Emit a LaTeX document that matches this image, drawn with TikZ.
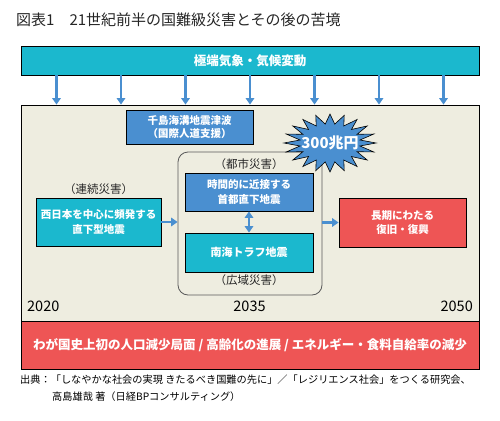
\documentclass[tikz,border=0pt]{standalone}
\usepackage{fontspec}
\setmainfont{Noto Sans CJK JP}
\usetikzlibrary{arrows.meta, positioning, calc}
\definecolor{kcyan}{HTML}{1BB8CE}
\definecolor{kblue}{HTML}{4A8FD0}
\definecolor{kred}{HTML}{EE5555}
\definecolor{kbeige}{HTML}{EEEDE0}

\begin{document}
\begin{tikzpicture}[x=1pt, y=-1pt,
    box/.style={draw, line width=0.8pt, inner sep=0pt, align=center, text=white, font=\bfseries\fontsize{10.5}{14.5}\selectfont},
    note/.style={inner sep=0pt, text=black!85, font=\fontsize{11.5}{13}\selectfont},
    flow/.style={-{Triangle[width=8.5pt,length=6.5pt]}, line width=2.8pt, kblue},
    year/.style={inner sep=0pt, font=\fontsize{14.5}{16}\selectfont}]
    \useasboundingbox (0,0) rectangle (500,420);
    \node[anchor=west, inner sep=0pt, text=black!85, font=\fontsize{15}{18}\selectfont] (title) at (16,20) {図表1　21世紀前半の国難級災害とその後の苦境};
    \node[box, fill=kcyan, minimum width=458, minimum height=29, font=\bfseries\fontsize{12.5}{15}\selectfont] (climate) at (250,60.5) {極端気象・気候変動};
    \node[draw, line width=0.8pt, fill=kbeige, minimum width=458, minimum height=217, inner sep=0pt] (era) at (250,213.5) {};
    \node[box, fill=kred, minimum width=458, minimum height=48, font=\bfseries\fontsize{12.5}{15}\selectfont] (decline) at (250,345) {わが国史上初の人口減少局面 / 高齢化の進展 / エネルギー・食料自給率の減少};
    \foreach \i in {-3,...,3}
        \draw[flow] ([xshift=\i*64.5pt]climate.south) -- ([xshift=\i*64.5pt]era.north);

    % disasters
    \node[box, fill=kblue, minimum width=127, minimum height=34, font=\bfseries\fontsize{10.5}{12.5}\selectfont] (tsunami) at (189.5,127) {千島海溝地震津波\\（国際人道支援）};
    \node[box, fill=kcyan, minimum width=125, minimum height=48] (west) at (98.5,222) {西日本を中心に頻発する\\直下型地震};
    \node[note, above=3pt of west] (serial) {（連続災害）};
    \node[draw=black!65, line width=0.8pt, rounded corners=10pt, minimum width=144, minimum height=143, inner sep=0pt] (group) at (250,223.5) {};
    \node[box, fill=kblue, minimum width=128, minimum height=38] (shuto) at (249,192) {時間的に近接する\\首都直下地震};
    \node[box, fill=kcyan, minimum width=128, minimum height=39, font=\bfseries\fontsize{11}{13}\selectfont] (nankai) at (249,252.5) {南海トラフ地震};
    \node[note, above=3pt of shuto] (urban) {（都市災害）};
    \node[note, below=2pt of nankai] (wide) {（広域災害）};
    \node[box, fill=kred, minimum width=127, minimum height=49] (recovery) at (402.5,222.5) {長期にわたる\\復旧・復興};
    \draw[flow] (west.east) -- (west.east -| group.west);
    \draw[flow] (group.east |- recovery.west) -- (recovery.west);
    \draw[{Triangle[width=8.5pt,length=6.5pt]}-{Triangle[width=8.5pt,length=6.5pt]}, line width=2.8pt, kblue] (shuto.south) -- (nankai.north);

    % damage burst
    \draw[fill=kblue, line width=0.6pt, line join=miter]
        plot[samples=41, domain=0:40, variable=\k]
        ({330+46*(0.83+0.17*cos(\k*180))*cos(\k*9)}, {143+29*(0.83+0.17*cos(\k*180))*sin(\k*9)}) -- cycle;
    \node[inner sep=0pt, text=white, font=\bfseries\fontsize{15}{18}\selectfont] (cost) at (330,143) {300兆円};

    % time axis
    \node[year, anchor=west] (y2020) at (27,306) {2020};
    \node[year] (y2035) at (249.5,306) {2035};
    \node[year, anchor=east] (y2050) at (473,306) {2050};

    \node[anchor=west, inner sep=0pt, font=\fontsize{10.2}{12}\selectfont] (source) at (20,380) {出典：「しなやかな社会の実現 きたるべき国難の先に」／「レジリエンス社会」をつくる研究会、};
    \node[anchor=west, inner sep=0pt, font=\fontsize{10.2}{12}\selectfont] (author) at (52,397) {高島雄哉 著（日経BPコンサルティング）};
\end{tikzpicture}
\end{document}
